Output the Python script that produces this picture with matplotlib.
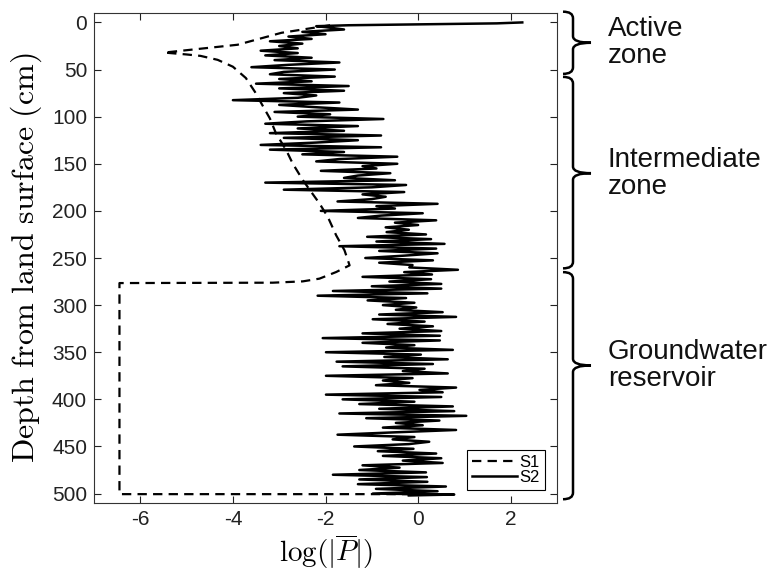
import matplotlib
matplotlib.use('Agg')
import matplotlib.pyplot as plt
from matplotlib.path import Path
from matplotlib.patches import PathPatch
import matplotlib.transforms as mtransforms

# ---------------- data ----------------
x_ticks = [-6, -4, -2, 0, 2]
y_ticks = [0, 50, 100, 150, 200, 250, 300, 350, 400, 450, 500]

s1_depth = [3, 11, 23.7, 32, 34, 35.5, 39.7, 47, 59, 74, 89, 102, 117.7, 135.4,
            149.6, 167.3, 179.8, 192.1, 206.4, 225.9, 238.3, 241.8, 257.8, 264.9,
            271.9, 274.8, 276.2, 276.6, 500.6, 500.6]
s1_x = [-1.9, -2.95, -3.9, -5.48, -5.0, -4.70, -4.33, -4.0, -3.72, -3.52, -3.35, -3.2,
        -3.07, -2.85, -2.71, -2.49, -2.31, -2.13, -1.95, -1.77, -1.63, -1.59, -1.48,
        -1.77, -2.13, -2.49, -3.14, -6.45, -6.45, 0.0]

s2_depth = [0, 1, 2, 3, 4,
            5, 7.5, 10, 12.5, 15, 17.5, 20, 22.5, 25, 27.5,
            30, 32.5, 35, 37.5, 40, 42.5, 45, 47.5, 50, 52.5,
            55, 57.5, 60, 62.5, 65, 67.5, 70, 72.5, 75, 77.5,
            80, 82.5, 85, 87.5, 90, 92.5, 95, 97.5, 100, 102.5,
            105, 107.5, 110, 112.5, 115, 117.5, 120, 122.5, 125, 127.5,
            130, 132.5, 135, 137.5, 140, 142.5, 145, 147.5, 150, 152.5,
            155, 157.5, 160, 162.5, 165, 167.5, 170, 172.5, 175, 177.5,
            180, 182.5, 185, 187.5, 190, 192.5, 195, 197.5, 200, 202.5,
            205, 207.5, 210, 212.5, 215, 217.5, 220, 222.5, 225, 227.5,
            230, 232.5, 235, 237.5, 240, 242.5, 245, 247.5, 250, 252.5,
            255, 257.5, 260, 262.5, 265, 267.5, 270, 272.5, 275, 277.5,
            280, 282.5, 285, 287.5, 290, 292.5, 295, 297.5, 300, 302.5,
            305, 307.5, 310, 312.5, 315, 317.5, 320, 322.5, 325, 327.5,
            330, 332.5, 335, 337.5, 340, 342.5, 345, 347.5, 350, 352.5,
            355, 357.5, 360, 362.5, 365, 367.5, 370, 372.5, 375, 377.5,
            380, 382.5, 385, 387.5, 390, 392.5, 395, 397.5, 400, 402.5,
            405, 407.5, 410, 412.5, 415, 417.5, 420, 422.5, 425, 427.5,
            430, 432.5, 435, 437.5, 440, 442.5, 445, 447.5, 450, 452.5,
            455, 457.5, 460, 462.5, 465, 467.5, 470, 472.5, 475, 477.5,
            480, 482.5, 485, 487.5, 490, 492.5, 495, 497.5, 500,
            501, 502]
s2_x = [2.25, 1.7, 0.0, -1.5, -2.2,
        -2.0, -1.6, -2.5, -2.0, -2.8, -2.3, -3.2, -2.5, -3.0, -2.6,
        -3.4, -2.6, -3.3, -2.3, -3.1, -1.7, -2.8, -3.6, -1.8, -2.9,
        -3.2, -1.8, -3.0, -2.3, -3.5, -1.5, -3.0, -1.6, -2.9, -2.2,
        -2.6, -4.0, -1.7, -3.0, -2.2, -1.3, -3.1, -1.9, -2.6, -0.75,
        -2.4, -3.3, -1.3, -2.6, -1.6, -3.2, -0.8, -2.9, -1.3, -2.2,
        -3.4, -0.8, -3.2, -1.6, -2.5, -0.45, -1.7, -2.2, -0.45, -1.2,
        -0.9, -2.1, -0.6, -1.3, -1.6, -0.5, -3.3, -0.26, -1.0, -2.9,
        -0.3, -1.2, -0.7, -1.0, -1.74, 0.42, -0.9, -0.5, -2.1, 0.1,
        -0.8, -1.3, 0.39, -0.5, 0.0, -0.7, -0.2, -0.68, 0.17, -1.1,
        0.28, -0.9, 0.57, -1.7, 0.39, -0.84, 0.42, -0.3, -1.14, 0.32,
        -0.84, -0.12, -0.19, 0.86, -0.3, 0.3, -1.2, 0.28, -0.62, 0.5,
        -1.0, 0.5, -1.84, 0.2, -2.17, -0.26, -1.09, -0.08, -0.76, -0.04,
        -0.48, 0.53, -0.84, 0.82, -0.98, 0.14, -0.66, 0.32, -0.4, 0.5,
        -1.2, 0.47, -2.06, 0.47, -1.2, -0.08, -0.69, 0.75, -1.99, 0.06,
        -0.73, 0.64, -1.76, 0.32, -1.63, 0.14, -0.33, 0.64, -1.99, -0.12,
        -0.76, -0.19, -0.91, 0.82, 0.03, 0.53, -1.99, 0.5, -1.63, -0.08,
        -1.27, 0.75, -0.84, 0.78, -1.7, 1.04, -1.12, 0.46, -0.48, 0.1,
        -0.76, 0.82, -0.5, -1.74, -0.08, -0.55, 0.24, -0.2, -1.38, -0.1,
        -0.87, 0.39, -0.76, 0.5, -0.33, 0.53, -1.2, -0.4, -1.27, 0.17,
        -1.84, 0.19, -1.27, 0.2, -1.3, 0.6, -0.91, 0.42, -0.98,
        0.78, -0.2]

zone_labels = ['Active\nzone', 'Intermediate\nzone', 'Groundwater\nreservoir']
zone_top = [-11.4, 57.8, 265]
zone_bottom = [54.6, 261, 506]
zone_tip = [21.6, 160, 364]

# ---------------- figure ----------------
plt.rcParams['font.family'] = ['Liberation Sans', 'DejaVu Sans']
plt.rcParams['mathtext.fontset'] = 'cm'

W, H = 769, 570
fig = plt.figure(figsize=(W / 100, H / 100), dpi=100)
ax = fig.add_axes([94 / W, 1 - 503 / H, 463 / W, 490 / H])

ax.plot(s1_x, s1_depth, color='black', lw=1.6, dashes=(4.2, 2.8), label='S1')
ax.plot(s2_x, s2_depth, color='black', lw=1.8, label='S2')

ax.set_xlim(-7, 3)
ax.set_ylim(510, -10)
ax.set_xticks(x_ticks)
ax.set_yticks(y_ticks)
ax.set_xticklabels([str(v) for v in x_ticks])
ax.tick_params(direction='in', top=True, right=True, length=5, width=0.8,
               labelsize=15, colors='#222222', pad=5)
for sp in ax.spines.values():
    sp.set_color('#333333')
    sp.set_linewidth(0.8)

ax.set_ylabel(r'$\mathrm{Depth\ from\ land\ surface\ (cm)}$', fontsize=23)
ax.yaxis.set_label_coords(-0.108, 0.5)
ax.set_xlabel(r'$\log(|\overline{P}|)$', fontsize=21)
ax.xaxis.set_label_coords(0.5, -0.06)

leg = ax.legend(loc='lower right', bbox_to_anchor=(0.974, 0.027), fontsize=12,
                frameon=True, fancybox=False, edgecolor='black', framealpha=1,
                borderpad=0.3, labelspacing=0.0, handlelength=2.7,
                handletextpad=0.15, borderaxespad=0)
leg.get_frame().set_linewidth(0.8)

# ---------------- braces ----------------
blend = mtransforms.blended_transform_factory(fig.transFigure, ax.transData)
xe, xm, xt = 563 / W, 573 / W, 591 / W
r = 7
for y0, y1, ym, lab in zip(zone_top, zone_bottom, zone_tip, zone_labels):
    verts = [(xe, y0), (xm, y0), (xm, y0 + r),
             (xm, ym - r),
             (xm, ym), (xt, ym),
             (xm, ym), (xm, ym + r),
             (xm, y1 - r),
             (xm, y1), (xe, y1)]
    codes = [Path.MOVETO, Path.CURVE3, Path.CURVE3,
             Path.LINETO,
             Path.CURVE3, Path.CURVE3,
             Path.CURVE3, Path.CURVE3,
             Path.LINETO,
             Path.CURVE3, Path.CURVE3]
    patch = PathPatch(Path(verts, codes), transform=blend, fill=False,
                      lw=1.8, edgecolor='black', clip_on=False)
    ax.add_patch(patch)
    ax.text(608 / W, ym, lab, transform=blend, ha='left', va='center',
            fontsize=20, linespacing=1.05, color='#111111', clip_on=False)

fig.savefig('out.png', dpi=100)
